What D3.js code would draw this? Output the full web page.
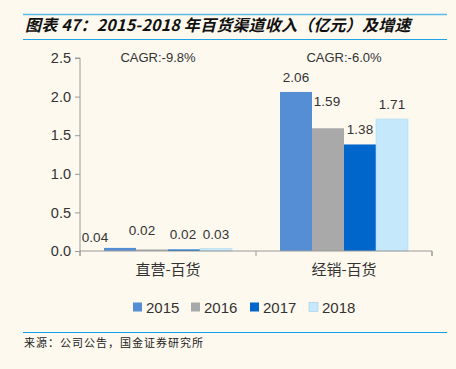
<!DOCTYPE html>
<html><head><meta charset="utf-8">
<script src="https://cdn.jsdelivr.net/npm/d3@7"></script>
<style>
html,body{margin:0;padding:0;background:#fdf9ef;}
svg{display:block;}
</style></head>
<body>
<svg id="c" width="456" height="369"></svg>
<script>
const categories = ["直营-百货", "经销-百货"];
const years = ["2015", "2016", "2017", "2018"];
const values2015 = [0.04, 2.06];
const values2016 = [0.02, 1.59];
const values2017 = [0.02, 1.38];
const values2018 = [0.03, 1.71];
const cagrLabels = ["CAGR:-9.8%", "CAGR:-6.0%"];
const yTicks = [0, 0.5, 1.0, 1.5, 2.0, 2.5];
const titleText = "图表 47：2015-2018 年百货渠道收入（亿元）及增速";
const sourceText = "来源：公司公告，国金证券研究所";

// styles
const colors = ["#558ed5", "#a9a9a9", "#0066cc", "#c5e8fb"];
// label nudges (style): [category][year] -> [dx, dy]
const labelNudge = [
  [[-25, 4], [-10, -4], [-1, 0], [0, 0]],
  [[0, 0], [-1, -12], [0, 0], [0, 0]]
];
const cagrNudge = [-10, 0];

const seriesVals = [values2015, values2016, values2017, values2018];
const svg = d3.select("#c");
const plot = {left: 80, right: 432, top: 58, bottom: 251};

const font = "'Liberation Sans', Arial, sans-serif";
const cjk = "'Noto Sans CJK SC', sans-serif";

// header lines
svg.append("line").attr("x1", 23).attr("x2", 447).attr("y1", 14.5).attr("y2", 14.5)
  .attr("stroke", "#5bbbe8").attr("stroke-width", 1.5);
svg.append("line").attr("x1", 23).attr("x2", 447).attr("y1", 39.5).attr("y2", 39.5)
  .attr("stroke", "#1ea4e6").attr("stroke-width", 1.2);
svg.append("text").attr("x", 25).attr("y", 31)
  .attr("font-family", cjk).attr("font-weight", "bold").attr("font-style", "italic")
  .attr("font-size", 16).attr("letter-spacing", 0.2).attr("fill", "#111").text(titleText);

const y = d3.scaleLinear().domain([0, 2.5]).range([plot.bottom, plot.top]);
const x0 = d3.scaleBand().domain(categories).range([plot.left, plot.right]).padding(0);
const x1 = d3.scaleBand().domain(years).range([24, x0.bandwidth() - 24]).padding(0);

// y axis
const yAxis = d3.axisLeft(y).tickValues(yTicks).tickFormat(d3.format(".1f")).tickSize(5).tickPadding(4);
const gy = svg.append("g").attr("transform", `translate(${plot.left},0)`).call(yAxis);
gy.select(".domain").attr("stroke", "#9a9a9a").attr("d", `M-5,${plot.top}H0V${plot.bottom}`);
gy.selectAll(".tick line").attr("stroke", "#9a9a9a");
gy.selectAll(".tick text").attr("font-family", font).attr("font-size", 14.5).attr("fill", "#333");

// bars
const g = svg.append("g");
categories.forEach((cat, ci) => {
  years.forEach((yr, si) => {
    const v = seriesVals[si][ci];
    const bx = x0(cat) + x1(yr);
    g.append("rect").attr("x", bx).attr("y", y(v)).attr("width", x1.bandwidth())
      .attr("height", y(0) - y(v)).attr("fill", colors[si])
      .attr("stroke", si === 3 ? "#b3d9ee" : "none").attr("stroke-width", 0.6);
    const n = labelNudge[ci][si];
    g.append("text").attr("x", bx + x1.bandwidth() / 2 + n[0]).attr("y", y(v) - 10 + n[1])
      .attr("text-anchor", "middle").attr("font-family", font).attr("font-size", 13.5)
      .attr("fill", "#333").text(v.toFixed(2));
  });
  g.append("text").attr("x", x0(cat) + x0.bandwidth() / 2 + cagrNudge[ci]).attr("y", 62)
    .attr("text-anchor", "middle").attr("font-family", font).attr("font-size", 13)
    .attr("fill", "#333").text(cagrLabels[ci]);
});

// x axis
const xAxis = d3.axisBottom(x0).tickSize(0).tickPadding(13);
const gx = svg.append("g").attr("transform", `translate(0,${plot.bottom})`).call(xAxis);
gx.select(".domain").attr("stroke", "#9a9a9a").attr("d", `M${plot.left},5V0H${plot.right}V5`);
gx.selectAll(".tick text").attr("font-family", cjk).attr("font-size", 15).attr("fill", "#333");
[x0.range()[0], x0(categories[1]), x0.range()[1]].forEach(px => {
  gx.append("line").attr("x1", px).attr("x2", px).attr("y1", 0).attr("y2", 5).attr("stroke", "#9a9a9a");
});

// legend
const leg = svg.append("g").attr("transform", "translate(0,307)");
const legX = [133, 191, 250, 309];
years.forEach((yr, i) => {
  leg.append("rect").attr("x", legX[i]).attr("y", -4.5).attr("width", 9).attr("height", 9)
    .attr("fill", colors[i]).attr("stroke", i === 3 ? "#9fcbe4" : "none").attr("stroke-width", 0.6);
  leg.append("text").attr("x", legX[i] + 13).attr("y", 5.5).attr("font-family", font)
    .attr("font-size", 15).attr("fill", "#333").text(yr);
});

// footer
svg.append("line").attr("x1", 23).attr("x2", 447).attr("y1", 332.5).attr("y2", 332.5)
  .attr("stroke", "#0aa0ea").attr("stroke-width", 1.2);
svg.append("text").attr("x", 24).attr("y", 347).attr("font-family", cjk)
  .attr("font-size", 11).attr("letter-spacing", 1).attr("fill", "#222").text(sourceText);
</script>
</body></html>
